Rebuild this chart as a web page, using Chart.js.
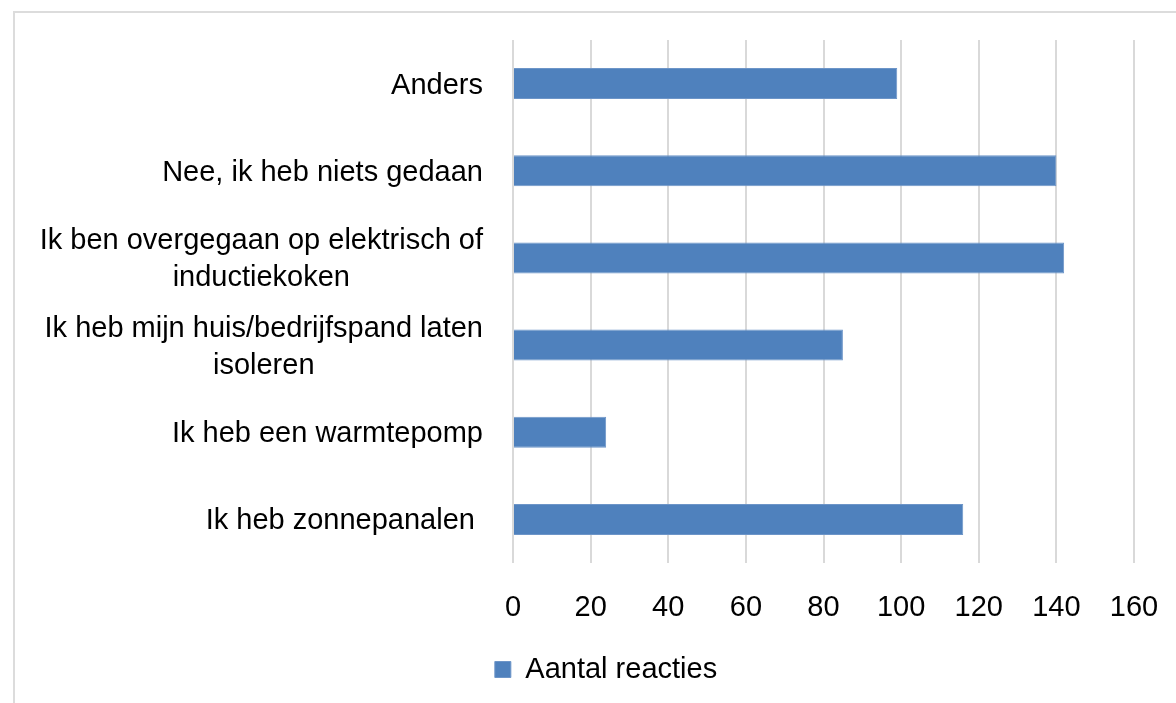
<!DOCTYPE html>
<html>
<head>
<meta charset="utf-8">
<script src="https://cdn.jsdelivr.net/npm/chart.js@4"></script>
<style>
    html, body { margin: 0; padding: 0; background: #fff; overflow: hidden; }
    #kader { position: absolute; left: 13px; top: 11px; width: 1400px; height: 900px; border: 2px solid #dcdcdc; box-sizing: border-box; }
    #houder { position: absolute; left: 0; top: 0; width: 1176px; height: 703px; }
</style>
</head>
<body>
<div id="kader"></div>
<div id="houder"><canvas id="grafiekReacties"></canvas></div>
<script>
const categorieen = [
    ['Anders'],
    ['Nee, ik heb niets gedaan'],
    ['Ik ben overgegaan op elektrisch of', 'inductiekoken'],
    ['Ik heb mijn huis/bedrijfspand laten', 'isoleren'],
    ['Ik heb een warmtepomp'],
    ['Ik heb zonnepanalen ']
];
const aantalReacties = [99, 140, 142, 85, 24, 116];
const xMin = 0;
const xMax = 160;
const xStap = 20;

const lettertype = "'Liberation Sans', Arial, sans-serif";

// labels zelf tekenen: blok rechts uitgelijnd, regels onderling gecentreerd
const labelsPlugin = {
    id: 'labelsLinks',
    afterDraw(chart) {
        const ctx = chart.ctx;
        const schaal = chart.scales.y;
        ctx.save();
        ctx.font = '29px ' + lettertype;
        ctx.fillStyle = '#000';
        ctx.textAlign = 'center';
        ctx.textBaseline = 'middle';
        const rechts = schaal.right - 30;
        const regelHoogte = 37;
        categorieen.forEach((regels, i) => {
            const breedte = Math.max(...regels.map(r => ctx.measureText(r).width));
            const midden = schaal.getPixelForValue(i) + 2;
            regels.forEach((regel, j) => {
                const y = midden + (j - (regels.length - 1) / 2) * regelHoogte;
                ctx.fillText(regel, rechts - breedte / 2, y);
            });
        });
        ctx.restore();
    }
};

const ctx = document.getElementById('grafiekReacties').getContext('2d');

new Chart(ctx, {
    type: 'bar',
    data: {
        labels: categorieen,
        datasets: [{
            label: 'Aantal reacties',
            data: aantalReacties,
            backgroundColor: '#4f81bd',
            borderColor: '#6d95c8',
            borderWidth: 1,
            barPercentage: 0.355,
            categoryPercentage: 1
        }]
    },
    options: {
        indexAxis: 'y',
        responsive: true,
        maintainAspectRatio: false,
        animation: false,
        layout: { padding: { left: 78, right: 42, top: 40, bottom: 9 } },
        scales: {
            y: {
                ticks: { display: false },
                grid: { display: false },
                border: { display: false },
                afterFit(scale) { scale.width = 435; }
            },
            x: {
                min: xMin,
                max: xMax,
                ticks: {
                    stepSize: xStap,
                    color: '#000',
                    padding: 2,
                    font: { family: lettertype, size: 29 }
                },
                grid: {
                    color: '#d9d9d9',
                    lineWidth: 2,
                    drawTicks: true,
                    tickLength: 26,
                    tickColor: 'rgba(0,0,0,0)'
                },
                border: { display: false },
                afterFit(scale) { scale.height = 82; }
            }
        },
        plugins: {
            legend: {
                position: 'bottom',
                labels: {
                    color: '#000',
                    boxWidth: 16,
                    boxHeight: 16,
                    padding: 10,
                    font: { family: lettertype, size: 29 }
                }
            },
            tooltip: { enabled: false }
        }
    },
    plugins: [labelsPlugin]
});
</script>
</body>
</html>
